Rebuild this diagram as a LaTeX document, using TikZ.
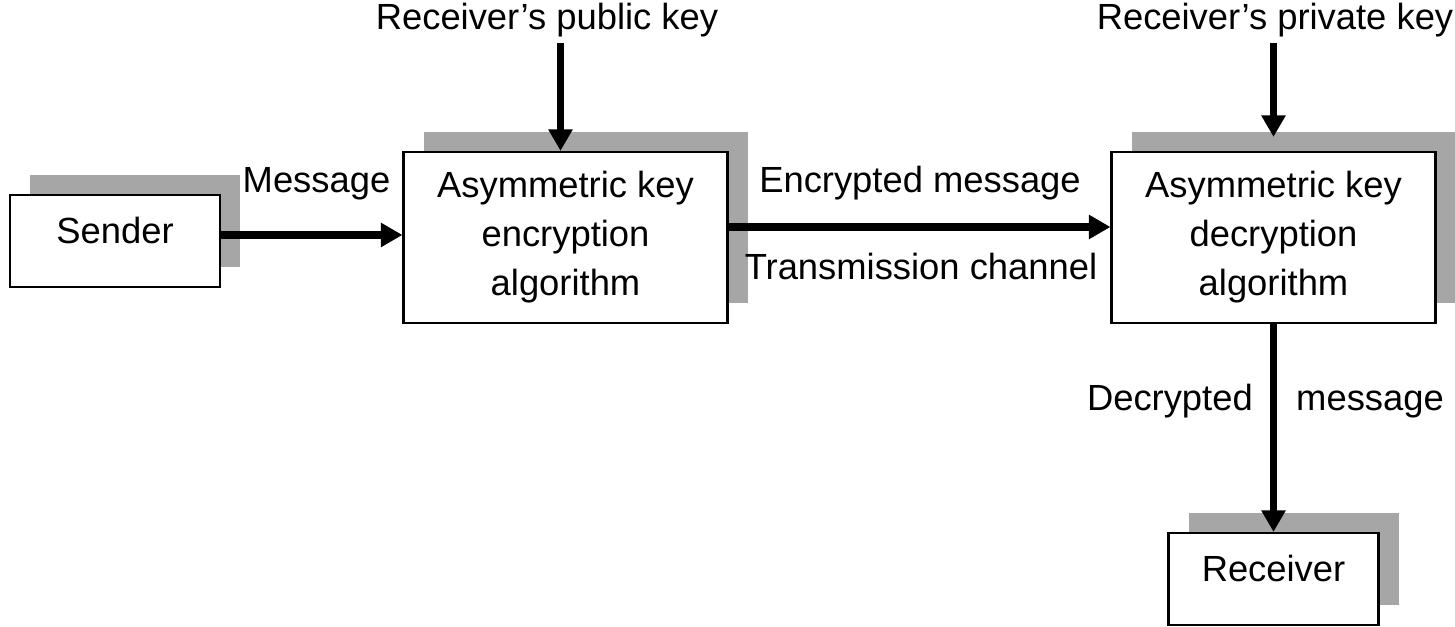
\documentclass[tikz,border=0pt]{standalone}
\usepackage{fontspec}
\setmainfont{Liberation Sans}
\usetikzlibrary{arrows.meta,shadows}
\definecolor{ombra}{HTML}{A6A6A6}

\begin{document}
\begin{tikzpicture}[
    font=\fontsize{20.7}{27.9}\selectfont,
    blocco/.style={draw, line width=1.2pt, fill=white, align=center,
        drop shadow={shadow xshift=4mm, shadow yshift=4mm, fill=ombra, opacity=1}},
    piccolo/.style={blocco, minimum width=4.2cm, minimum height=1.84cm, text depth=4.4mm},
    grande/.style={blocco, minimum width=6.48cm, minimum height=3.42cm},
    freccia/.style={-{Triangle[length=4.3mm, width=4.6mm]}, line width=4.2pt},
    testo/.style={anchor=base}
]
    % Parametri
    \def\yb{7.79}      % altezza dei blocchi principali
    \def\xd{25.47}     % colonna della decifratura
    \def\ytop{11.95}   % linea di base delle chiavi

    \useasboundingbox (0,0) rectangle (29.1,12.54);

    % Blocchi
    \node[piccolo] (sender) at (2.30,7.72) {Sender};
    \node[grande] (enc) at (11.31,\yb) {Asymmetric key\\encryption\\algorithm};
    \node[grande] (dec) at (\xd,\yb) {Asymmetric key\\decryption\\algorithm};
    \node[piccolo] (receiver) at (\xd,0.96) {Receiver};

    % Etichette
    \node[testo] (msg) at (6.33,8.68) {Message};
    \node[testo] (pubkey) at (10.94,\ytop) {Receiver’s public key};
    \node[testo] (privkey) at (25.5,\ytop) {Receiver’s private key};
    \node[testo] (encmsg) at (18.4,8.68) {Encrypted message};
    \node[testo] (channel) at (18.42,6.94) {Transmission channel};
    \node[testo, anchor=base east] (decr) at (25.18,4.32) {Decrypted};
    \node[testo, anchor=base west] (decmsg) at (25.80,4.32) {message};

    % Frecce
    \draw[freccia] ([yshift=1.2mm]sender.east) -- ([yshift=1.2mm]sender.east -| enc.west);
    \draw[freccia] ([xshift=-1mm]pubkey.south -| enc.north) -- ([xshift=-1mm]enc.north);
    \draw[freccia] (privkey.south -| dec.north) -- ([yshift=2.8mm]dec.north);
    \draw[freccia] ([yshift=2.1mm]enc.east) -- ([yshift=2.1mm]dec.west);
    \draw[freccia] (dec.south) -- (receiver.north);

\end{tikzpicture}
\end{document}
